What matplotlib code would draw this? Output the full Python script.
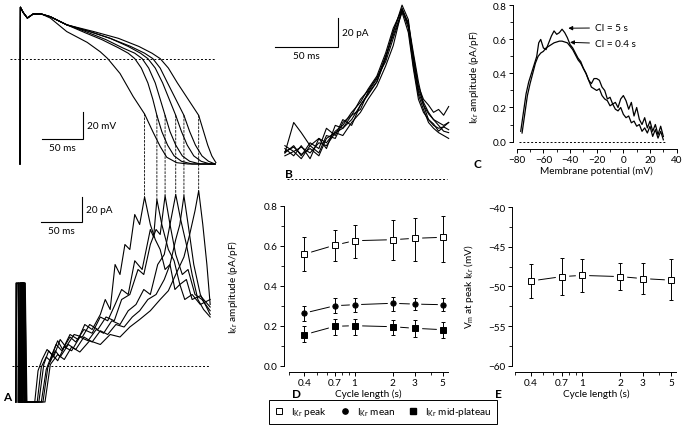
import numpy as np
import matplotlib
matplotlib.use('Agg')
import matplotlib.pyplot as plt
from matplotlib.patches import ConnectionPatch
from matplotlib.lines import Line2D

plt.rcParams['font.family'] = ['Lato', 'DejaVu Sans']
plt.rcParams['mathtext.default'] = 'regular'
plt.rcParams['font.size'] = 7.2
plt.rcParams['axes.linewidth'] = 0.7

# ---- panel A, action potentials (ms, mV) ----
ap_t = [
    [0, 0.5, 4, 9, 16, 26, 37, 57, 82, 98, 107, 122, 138, 152, 162, 171, 179, 191, 205, 238],
    [0, 0.5, 4, 9, 16, 26, 37, 57, 80, 100, 120, 132, 140, 148, 156, 162, 167, 173, 180, 188, 197, 210, 238],
    [0, 0.5, 4, 9, 16, 26, 37, 57, 80, 105, 125, 140, 149, 157, 165, 171, 177, 183, 190, 198, 207, 220, 238],
    [0, 0.5, 4, 9, 16, 26, 37, 57, 85, 110, 132, 147, 156, 165, 174, 182, 190, 197, 204, 212, 221, 232, 238],
    [0, 0.5, 4, 9, 16, 26, 37, 57, 85, 110, 135, 152, 162, 171, 180, 190, 200, 207, 214, 222, 230, 238],
    [0, 0.5, 4, 9, 16, 26, 37, 57, 90, 120, 145, 161, 171, 181, 192, 205, 218, 224, 229, 234, 239],
]
ap_v = [
    [-78, 38, 34, 30, 33, 33, 30, 20, 12, 5, 0, -11, -28, -41, -54, -65, -73, -77, -78, -78],
    [-78, 38, 34, 30, 33, 33, 31, 25, 19, 14, 8, 4, 0, -7, -18, -30, -42, -54, -64, -72, -76, -78, -78],
    [-78, 38, 34, 30, 33, 33, 31, 25, 20, 14, 8, 4, 0, -7, -18, -30, -42, -54, -64, -72, -76, -78, -78],
    [-78, 38, 34, 30, 33, 33, 31, 25, 20, 15, 9, 4, 0, -7, -18, -30, -42, -54, -64, -72, -76, -78, -78],
    [-78, 38, 34, 30, 33, 33, 31, 25, 20, 15, 9, 4, 0, -7, -18, -30, -42, -54, -64, -72, -76, -78],
    [-78, 38, 34, 30, 33, 33, 31, 25, 20, 15, 9, 4, 0, -7, -18, -30, -42, -54, -64, -72, -77],
]

# ---- panel A, IKr during the AP (ms, pA); first 4 points = capacitive transient ----
cur_t = [
    [-5, -4.5, -2, 0, 8.5, 18, 22, 27, 33, 39, 46, 52, 61, 71, 79, 88, 98, 104, 110, 116, 122, 128, 134,
     140, 146, 152, 159, 165, 171, 177, 183, 189, 195, 201, 210, 220, 232],
    [-2, -1.5, 1, 3, 10, 21, 26, 32, 37, 44, 51, 61, 68, 78, 88, 98, 107, 116, 124, 132, 140, 149, 159,
     163, 167, 173, 181, 188, 195, 203, 210, 220, 232],
    [0, 0.5, 3, 5, 11, 23, 29, 35, 41, 49, 56, 66, 76, 85, 95, 105, 115, 124, 134, 144, 151, 159, 166,
     171, 177, 183, 190, 198, 205, 213.5, 222, 232],
    [1, 1.5, 4, 6, 12, 26, 32, 39, 46, 54, 63, 73, 83, 93, 102, 112, 122, 132, 141.5, 151, 159, 168, 176,
     183, 190, 196, 203, 210, 217, 224, 232],
    [2, 2.5, 5, 7, 13, 28, 34, 43, 49, 59, 68, 78, 88, 98, 107, 117, 127, 137, 146, 156, 166, 176, 183,
     190, 195, 200, 206, 212, 220, 226, 232],
    [3, 3.5, 6, 8, 15, 30.5, 37, 46, 54, 63, 73, 85, 98, 110, 122, 134, 146, 159, 171, 181, 190, 200, 207,
     213.5, 218, 223, 228, 232],
]
cur_i = [
    [-29, 66, 66, -29, -29, -29, -4, 5, 13, 9, 20, 13, 25, 21, 33, 29, 41, 53, 45, 81, 73, 97, 93,
     121, 113, 135, 113, 101, 93, 77, 81, 61, 65, 53, 57, 49, 53],
    [-29, 66, 66, -29, -29, -29, -1, 7, 4, 17, 12, 23, 19, 29, 26, 39, 36, 49, 61, 57, 84, 77, 109,
     103, 133, 113, 93, 84, 65, 69, 53, 56, 47],
    [-29, 66, 66, -29, -29, -29, 1, 12, 7, 21, 15, 25, 23, 33, 29, 39, 36, 53, 57, 77, 73, 97, 109,
     105, 136, 113, 89, 73, 77, 57, 53, 44],
    [-29, 66, 66, -29, -29, -29, -3, 9, 4, 15, 12, 23, 20, 29, 26, 36, 33, 44, 49, 61, 57, 81, 89,
     113, 137, 117, 97, 73, 53, 45, 39],
    [-29, 66, 66, -29, -29, -29, -1, 12, 7, 17, 13, 23, 19, 28, 25, 33, 31, 39, 44, 53, 57, 69, 81,
     101, 113, 136, 109, 81, 57, 49, 41],
    [-29, 66, 66, -29, -29, -29, 1, 9, 5, 15, 11, 20, 17, 25, 23, 31, 37, 44, 53, 60, 73, 87, 105,
     124, 140, 113, 81, 49],
]

# ---- panel B, traces aligned at peak (ms, pA) ----
b_t = [-93, -86, -80, -73, -66, -60, -53, -47, -40, -33, -27, -20, -13, -7, 0, 5, 9, 13, 17, 21, 25, 29, 33, 37]
b_i = [
    [23, 19, 22, 18, 25, 23, 32, 30, 39, 46, 55, 64, 78, 92, 117, 106, 85, 64, 55, 51, 46, 48, 44, 50],
    [18, 23, 16, 25, 21, 35, 30, 41, 37, 51, 58, 67, 83, 101, 120, 110, 81, 62, 53, 46, 41, 39, 37, 39],
    [18, 39, 32, 23, 28, 21, 37, 35, 44, 48, 60, 69, 85, 99, 116, 108, 87, 67, 51, 41, 37, 35, 36, 39],
    [21, 16, 23, 14, 28, 25, 33, 37, 46, 53, 62, 71, 87, 104, 117, 104, 78, 58, 48, 39, 35, 32, 30, 28],
    [16, 19, 14, 23, 18, 30, 28, 39, 44, 55, 61, 70, 81, 97, 115, 101, 76, 55, 46, 41, 38, 33, 36, 34],
    [19, 22, 17, 21, 16, 28, 32, 35, 41, 51, 59, 67, 84, 102, 118, 107, 83, 60, 51, 45, 41, 37, 33, 32],
]

# ---- panel C, IKr vs membrane potential ----
c_v_5s = [-77, -75, -73, -71, -69, -67, -65, -63.5, -62, -60, -58, -56, -54, -52, -50, -48, -46, -44, -42, -40,
          -38, -36, -34, -32, -30, -28, -26, -24, -22, -20, -18, -16, -14, -12, -10, -8, -6, -4, -2, 0,
          2, 4, 6, 8, 10, 12, 14, 16, 18, 20, 22, 24, 26, 28, 30]
c_i_5s = [0.06, 0.17, 0.28, 0.35, 0.40, 0.45, 0.50, 0.58, 0.60, 0.55, 0.54, 0.58, 0.62, 0.65, 0.63, 0.64, 0.66,
          0.64, 0.61, 0.57, 0.55, 0.52, 0.49, 0.47, 0.43, 0.40, 0.36, 0.34, 0.37, 0.37, 0.36, 0.32, 0.30,
          0.25, 0.26, 0.22, 0.23, 0.20, 0.25, 0.27, 0.24, 0.19, 0.23, 0.15, 0.20, 0.13, 0.10, 0.14, 0.08,
          0.12, 0.06, 0.10, 0.04, 0.09, 0.03]
c_v_04 = [-76, -74, -72, -70, -68, -66, -64, -62, -60, -58, -56, -54, -52, -50, -48, -46, -44, -42, -40, -38,
          -36, -34, -32, -30, -28, -26, -24, -22, -20, -18, -16, -14, -12, -10, -8, -6, -4, -2, 0, 2,
          4, 6, 8, 10, 12, 14, 16, 18, 20, 22, 24, 26, 28, 30]
c_i_04 = [0.05, 0.16, 0.27, 0.34, 0.40, 0.46, 0.50, 0.52, 0.53, 0.55, 0.56, 0.57, 0.58, 0.585, 0.59, 0.59,
          0.585, 0.58, 0.56, 0.54, 0.51, 0.48, 0.46, 0.43, 0.40, 0.36, 0.32, 0.31, 0.30, 0.31, 0.27, 0.25,
          0.24, 0.21, 0.22, 0.19, 0.18, 0.20, 0.16, 0.14, 0.15, 0.11, 0.12, 0.09, 0.10, 0.06, 0.08, 0.05,
          0.09, 0.03, 0.07, 0.02, 0.06, 0.01]

# ---- panels D and E, summary vs cycle length ----
cycle = [0.4, 0.7, 1, 2, 3, 5]
cycle_labels = ['0.4', '0.7', '1', '2', '3', '5']
peak = [0.558, 0.603, 0.625, 0.63, 0.637, 0.642]
peak_hi = [0.642, 0.68, 0.703, 0.73, 0.738, 0.747]
peak_lo = [0.472, 0.522, 0.537, 0.528, 0.522, 0.52]
mean = [0.263, 0.30, 0.305, 0.312, 0.308, 0.305]
mean_hi = [0.30, 0.337, 0.34, 0.345, 0.34, 0.337]
mean_lo = [0.225, 0.263, 0.27, 0.275, 0.278, 0.275]
mid = [0.155, 0.197, 0.2, 0.195, 0.187, 0.18]
mid_hi = [0.197, 0.233, 0.233, 0.23, 0.228, 0.22]
mid_lo = [0.117, 0.155, 0.155, 0.155, 0.145, 0.138]
vm_peak = [-49.3, -48.75, -48.6, -48.75, -49.0, -49.2]
vm_hi = [-47.2, -46.4, -46.5, -47.0, -47.0, -46.5]
vm_lo = [-51.4, -51.1, -50.7, -50.4, -51.0, -51.75]

W, H = 685, 431
fig = plt.figure(figsize=(W / 100, H / 100), dpi=100)


def box(x0, y0, x1, y1):
    return [x0 / W, 1 - y1 / H, (x1 - x0) / W, (y1 - y0) / H]


def scalebar(ax, x, y, dx, dy, xlab, ylab):
    ax.plot([x - dx, x, x], [y, y, y + dy], color='k', lw=0.8, solid_joinstyle='miter')
    ax.annotate(ylab, (x, y + dy / 2), xytext=(3, 0), textcoords='offset points', ha='left', va='center')
    ax.annotate(xlab, (x - dx / 2, y), xytext=(0, -3), textcoords='offset points', ha='center', va='top')


dash = (0, (2, 2))

# A top
axv = fig.add_axes(box(0, 0, 220, 175))
axv.axis('off')
for t, v in zip(ap_t, ap_v):
    axv.plot(t, v, color='k', lw=0.8)
axv.hlines(0, -12, 238, colors='k', linestyles=dash, lw=0.7)
scalebar(axv, 77, -59.5, 50, 20, '50 ms', '20 mV')
axv.set_xlim(-24.4, 244)
axv.set_ylim(-85.4, 44.1)

# A bottom
axi = fig.add_axes(box(0, 180, 220, 410))
axi.axis('off')
for t, i in zip(cur_t, cur_i):
    axi.plot(t, i, color='k', lw=0.8)
    axi.plot(t[:4], i[:4], color='k', lw=1.3)
axi.hlines(0, -10, 232, colors='k', linestyles=dash, lw=0.7)
scalebar(axi, 75.6, 115, 50, 20, '50 ms', '20 pA')
axi.set_xlim(-24.4, 244)
axi.set_ylim(-34.6, 149.4)

# dashed links from AP to current peak
for k in range(len(cur_t)):
    j = int(np.argmax(cur_i[k]))
    tp = cur_t[k][j]
    vp = np.interp(tp, ap_t[k], ap_v[k])
    con = ConnectionPatch(xyA=(tp, vp), coordsA=axv.transData, xyB=(tp, cur_i[k][j]),
                          coordsB=axi.transData, color='k', lw=0.6, linestyle=(0, (2.5, 2)))
    fig.add_artist(con)

# B
axb = fig.add_axes(box(270, 0, 460, 190))
axb.axis('off')
for i in b_i:
    axb.plot(b_t, i, color='k', lw=0.8)
axb.hlines(0, -91, 36, colors='k', linestyles=dash, lw=0.7)
scalebar(axb, -50.8, 91, 50, 20, '50 ms', '20 pA')
axb.set_xlim(-104.8, 46)
axb.set_ylim(-6.9, 124.2)


def style(ax):
    for s in ['top', 'right']:
        ax.spines[s].set_visible(False)
    ax.tick_params(which='major', direction='out', length=3, width=0.7, labelsize=7.2, pad=1.5)
    ax.tick_params(which='minor', direction='out', length=2, width=0.6)


# C
axc = fig.add_axes(box(513, 3, 680, 150))
style(axc)
axc.plot(c_v_5s, c_i_5s, color='k', lw=0.9)
axc.plot(c_v_04, c_i_04, color='k', lw=0.9)
axc.hlines(0, -78, 31, colors='k', linestyles=dash, lw=0.7)
axc.set_xlim(-82.8, 42.5)
axc.set_ylim(-0.044, 0.82)
axc.spines['left'].set_bounds(0, 0.8)
axc.spines['bottom'].set_bounds(-80, 40)
axc.set_xticks([-80, -60, -40, -20, 0, 20, 40])
axc.set_xticks([-70, -50, -30, -10, 10, 30], minor=True)
axc.set_yticks([0, 0.2, 0.4, 0.6, 0.8])
axc.set_yticks([0.1, 0.3, 0.5, 0.7], minor=True)
axc.set_yticklabels(['0.0', '0.2', '0.4', '0.6', '0.8'])
axc.set_xticklabels(['\u221280', '\u221260', '\u221240', '\u221220', '0', '20', '40'])
axc.set_xlabel('Membrane potential (mV)', labelpad=1)
axc.set_ylabel('I$_{Kr}$ amplitude (pA/pF)')
axc.yaxis.set_label_coords(-0.19, 0.5)
arrow = dict(arrowstyle='-|>', color='k', lw=0.7, shrinkA=2, shrinkB=0, mutation_scale=6)
axc.annotate('CI = 5 s', xy=(-41.3, 0.666), xytext=(-21.3, 0.668), ha='left', va='center', arrowprops=arrow)
axc.annotate('CI = 0.4 s', xy=(-40, 0.583), xytext=(-21.3, 0.574), ha='left', va='center', arrowprops=arrow)


def cl_axis(ax):
    ax.set_xscale('log')
    ax.set_xticks(cycle)
    ax.set_xticklabels(cycle_labels)
    ax.set_xticks([0.3, 0.5, 0.6, 0.8, 0.9, 4], minor=True)
    ax.xaxis.set_minor_formatter(plt.NullFormatter())
    ax.spines['bottom'].set_bounds(0.3, 5.5)
    ax.set_xlabel('Cycle length (s)', labelpad=1)


def series(ax, y, lo, hi, marker, face, ms):
    err = [np.subtract(y, lo), np.subtract(hi, y)]
    ax.plot(cycle, y, color='k', lw=0.7, zorder=1)
    ax.plot(cycle, y, ls='none', marker=marker, ms=ms + 3.5, mfc='white', mec='white', zorder=2)
    ax.errorbar(cycle, y, yerr=err, fmt='none', ecolor='k', elinewidth=0.7, capsize=1.5, capthick=0.7, zorder=3)
    ax.plot(cycle, y, ls='none', marker=marker, ms=ms, mfc=face, mec='k', mew=0.7, zorder=4)


# D
axd = fig.add_axes(box(284, 200, 452, 373))
style(axd)
series(axd, peak, peak_lo, peak_hi, 's', 'white', 5)
series(axd, mean, mean_lo, mean_hi, 'o', 'k', 3.8)
series(axd, mid, mid_lo, mid_hi, 's', 'k', 5)
cl_axis(axd)
axd.set_xlim(0.276, 5.91)
axd.set_ylim(-0.0315, 0.8335)
axd.spines['left'].set_bounds(0, 0.8)
axd.set_yticks([0, 0.2, 0.4, 0.6, 0.8])
axd.set_yticks([0.1, 0.3, 0.5, 0.7], minor=True)
axd.set_yticklabels(['0.0', '0.2', '0.4', '0.6', '0.8'])
axd.set_ylabel('I$_{Kr}$ amplitude (pA/pF)')
axd.yaxis.set_label_coords(-0.26, 0.5)

# E
axe = fig.add_axes(box(512, 200, 680, 373))
style(axe)
series(axe, vm_peak, vm_lo, vm_hi, 's', 'white', 5)
cl_axis(axe)
axe.set_xlim(0.284, 5.89)
axe.set_ylim(-60.8, -38.95)
axe.spines['left'].set_bounds(-60, -40)
axe.set_yticks([-60, -55, -50, -45, -40])
axe.set_yticks([-57.5, -52.5, -47.5, -42.5], minor=True)
axe.set_yticklabels(['\u221260', '\u221255', '\u221250', '\u221245', '\u221240'])
axe.set_ylabel('V$_m$ at peak I$_{Kr}$ (mV)')
axe.yaxis.set_label_coords(-0.215, 0.5)

# legend
handles = [
    Line2D([], [], ls='none', marker='s', ms=5, mfc='white', mec='k', mew=0.7),
    Line2D([], [], ls='none', marker='o', ms=3.8, mfc='k', mec='k'),
    Line2D([], [], ls='none', marker='s', ms=5, mfc='k', mec='k'),
]
leg = fig.legend(handles, ['I$_{Kr}$ peak', 'I$_{Kr}$ mean', 'I$_{Kr}$ mid-plateau'],
                 loc='center', bbox_to_anchor=(383 / W, 1 - 413 / H), ncol=3, fontsize=7.2,
                 frameon=True, fancybox=False, edgecolor='k', framealpha=1,
                 handlelength=1, handletextpad=0.7, columnspacing=1.3, borderpad=0.55)
leg.get_frame().set_linewidth(0.7)

# panel letters
for lab, x, y in [('A', 3, 398), ('B', 285, 174), ('C', 474, 164), ('D', 292, 395), ('E', 495, 395)]:
    fig.text(x / W, 1 - y / H, lab, fontsize=8.5, fontweight='bold', ha='left', va='center')

fig.savefig('out.png', dpi=100)
